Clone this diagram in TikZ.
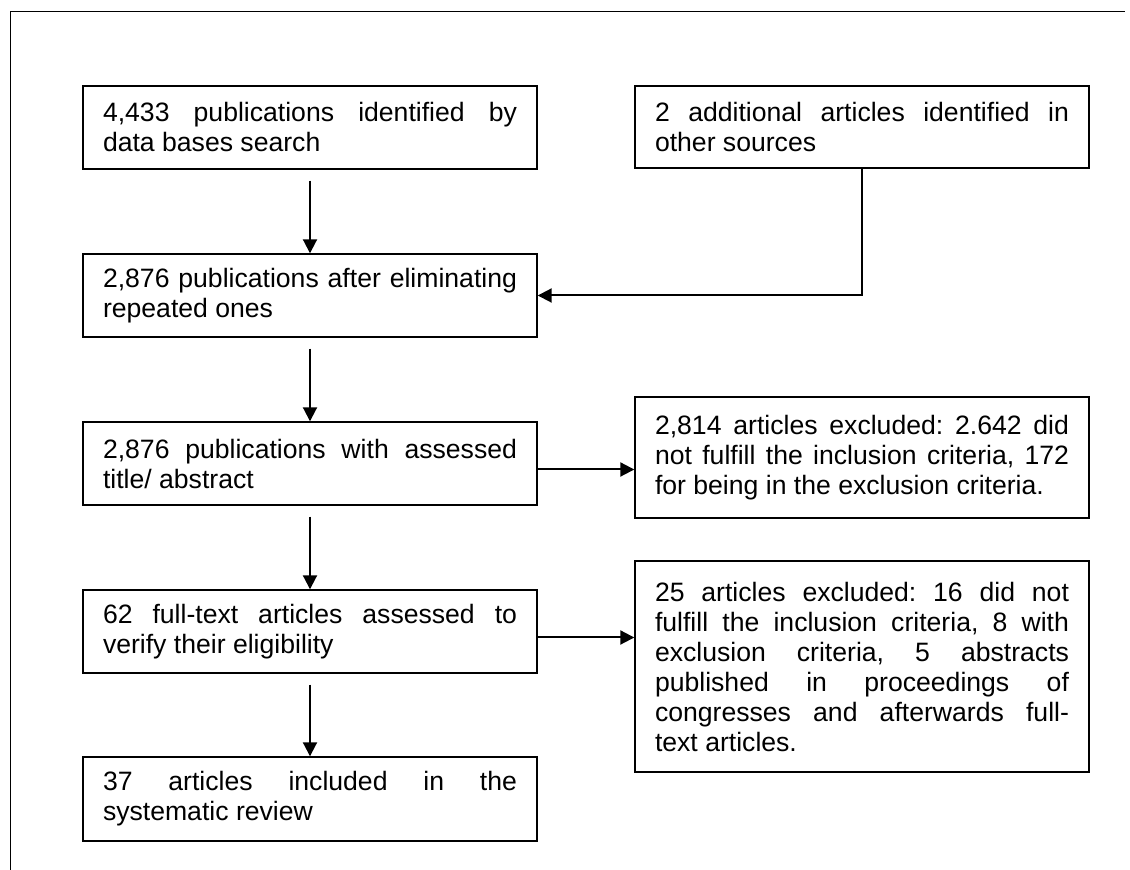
\documentclass[tikz,border=0pt]{standalone}
\usepackage{fontspec}
\setmainfont{Liberation Sans}
\usetikzlibrary{arrows.meta}
\frenchspacing
\begin{document}
\begin{tikzpicture}[x=0.5pt,y=-0.5pt,
    box/.style={draw,line width=0.7pt,text width=207pt,inner xsep=10pt,inner ysep=0pt,
        align=justify,font=\fontsize{13.3}{15}\selectfont},
    flow/.style={line width=1pt,-{Triangle[length=7pt,width=7pt]}}]
    \useasboundingbox (0,0) rectangle (1130,870);
    \draw[line width=0.5pt] (10,870) -- (10,12) -- (1125,12);
    % left column
    \node[box,minimum height=41.5pt] (found) at (310,127.5)
        {4,433 publications identified by\linebreak data bases search};
    \node[box,minimum height=41.5pt] (dedup) at (310,295.5)
        {2,876 publications after eliminating\linebreak repeated ones};
    \node[box,minimum height=41.5pt] (screened) at (310,463.5)
        {2,876 publications with assessed\linebreak title/ abstract};
    \node[box,minimum height=41.5pt] (fulltext) at (310,631.5)
        {62 full-text articles assessed to\linebreak verify their eligibility};
    \node[box,minimum height=42pt] (included) at (310,799)
        {37 articles included in the\linebreak systematic review};
    % right column
    \node[box,minimum height=41pt] (extra) at (862,127)
        {2 additional articles identified in\linebreak other sources};
    \node[box,minimum height=60.5pt] (excla) at (862,457.5)
        {2,814 articles excluded: 2.642 did\linebreak not fulfill the inclusion criteria, 172\linebreak for being in the exclusion criteria.};
    \node[box,minimum height=105.5pt] (exclb) at (862,666.5)
        {25 articles excluded: 16 did not\linebreak fulfill the inclusion criteria, 8 with\linebreak exclusion criteria, 5 abstracts\linebreak published in proceedings of\linebreak congresses and afterwards full-\linebreak text articles.};
    % connectors
    \draw[flow] ([yshift=-5.5pt]found.south) -- (dedup.north);
    \draw[flow] (extra.south) |- (dedup.east);
    \draw[flow] ([yshift=-5.5pt]dedup.south) -- (screened.north);
    \draw[flow] ([yshift=-3pt]screened.east) -- ([yshift=-3pt]screened.east -| excla.west);
    \draw[flow] ([yshift=-5.5pt]screened.south) -- (fulltext.north);
    \draw[flow] ([yshift=-3pt]fulltext.east) -- ([yshift=-3pt]fulltext.east -| exclb.west);
    \draw[flow] ([yshift=-5.5pt]fulltext.south) -- (included.north);
\end{tikzpicture}
\end{document}
